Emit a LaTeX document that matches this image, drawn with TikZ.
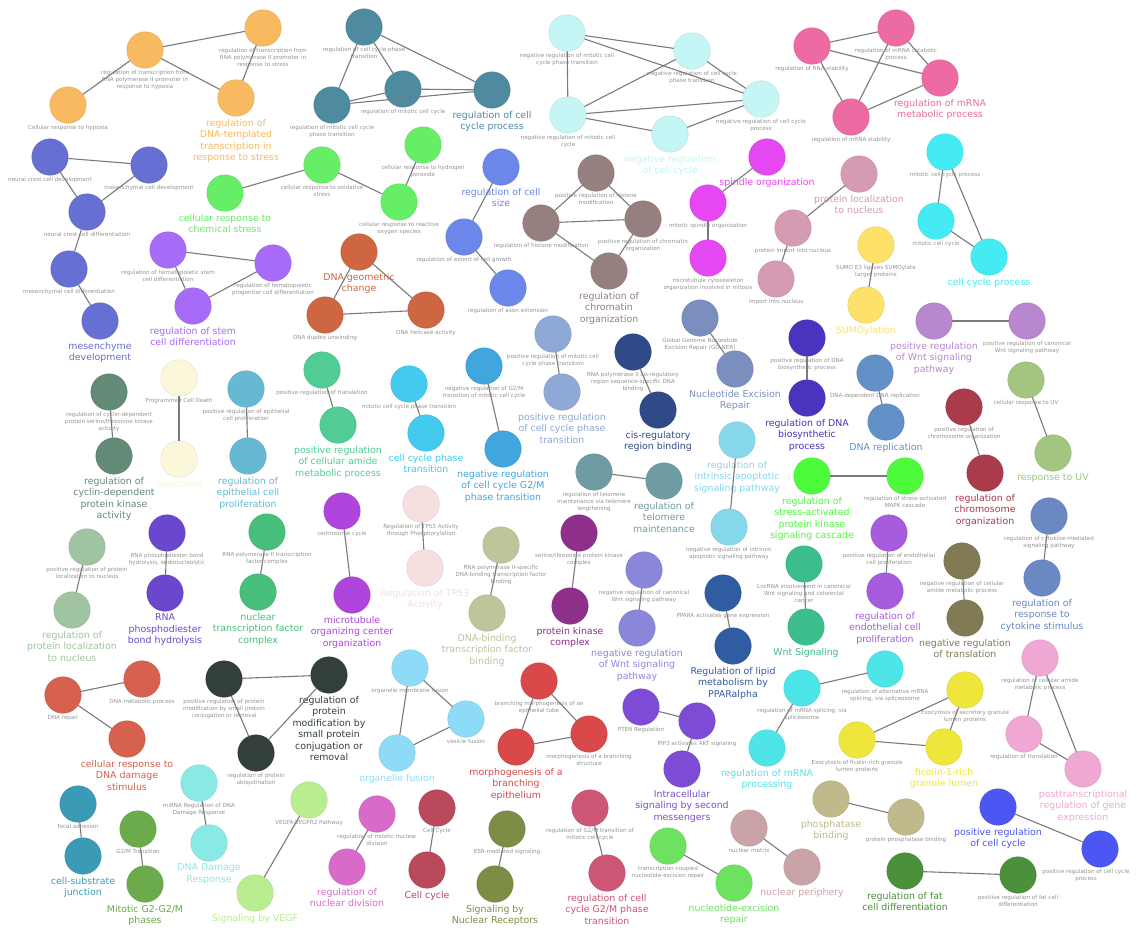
\documentclass[tikz,border=0pt]{standalone}
\usepackage{fontspec}
\setmainfont{DejaVu Sans}
\usetikzlibrary{positioning}
\definecolor{TxOrange}{HTML}{F9B961}
\definecolor{MesBlue}{HTML}{6670D2}
\definecolor{CcpTeal}{HTML}{4E8BA1}
\definecolor{NegCyan}{HTML}{C5F5F5}
\definecolor{MrnaPink}{HTML}{EC6BA2}
\definecolor{ChemGreen}{HTML}{66EE66}
\definecolor{StemPurple}{HTML}{A76BF7}
\definecolor{SizeBlue}{HTML}{6C87EA}
\definecolor{GeoRust}{HTML}{CE6642}
\definecolor{ChromBrown}{HTML}{96807F}
\definecolor{SpinMagenta}{HTML}{E547F2}
\definecolor{LocMauve}{HTML}{D59BB2}
\definecolor{CcCyan}{HTML}{45EBF3}
\definecolor{SumoYellow}{HTML}{FDE169}
\definecolor{WntLavender}{HTML}{B887CF}
\definecolor{PhaseSteel}{HTML}{8EA9D6}
\definecolor{CisNavy}{HTML}{2F4A86}
\definecolor{NerSlate}{HTML}{7A8FBE}
\definecolor{BioIndigo}{HTML}{4A33BF}
\definecolor{ReplBlue}{HTML}{6390C6}
\definecolor{ChromoCrimson}{HTML}{A93B4A}
\definecolor{UvGreen}{HTML}{A2C67F}
\definecolor{CdkGrey}{HTML}{638A77}
\definecolor{ApoCream}{HTML}{FAF7DA}
\definecolor{EpiBlue}{HTML}{67B9D3}
\definecolor{AmideGreen}{HTML}{52CC95}
\definecolor{TransSky}{HTML}{44C9EF}
\definecolor{GtmBlue}{HTML}{41A5DE}
\definecolor{TeloTeal}{HTML}{6F9CA3}
\definecolor{IntrSky}{HTML}{87D7EB}
\definecolor{SapkGreen}{HTML}{4DFB3A}
\definecolor{WntTeal}{HTML}{3BBE8C}
\definecolor{EndoPurple}{HTML}{A65CDC}
\definecolor{TranslOlive}{HTML}{817A55}
\definecolor{CytoBlue}{HTML}{6A88C2}
\definecolor{NucSage}{HTML}{A0C4A1}
\definecolor{RnaViolet}{HTML}{6B47CE}
\definecolor{NtfGreen}{HTML}{48BE7B}
\definecolor{MtocPurple}{HTML}{B045DE}
\definecolor{TpPink}{HTML}{F6DFDF}
\definecolor{TfbSage}{HTML}{BDC69B}
\definecolor{PkcPlum}{HTML}{8D2F8B}
\definecolor{NwntPeri}{HTML}{8A87DB}
\definecolor{PparBlue}{HTML}{305CA1}
\definecolor{SmallCharcoal}{HTML}{333F3A}
\definecolor{DamCoral}{HTML}{D6614F}
\definecolor{FusionBlue}{HTML}{8EDBF8}
\definecolor{MorphRed}{HTML}{D94949}
\definecolor{MessPurple}{HTML}{7D4CD4}
\definecolor{SpliceCyan}{HTML}{4EE5E9}
\definecolor{FicoYellow}{HTML}{EFE63B}
\definecolor{PostPink}{HTML}{EFA8D4}
\definecolor{JuncTeal}{HTML}{3B9BB6}
\definecolor{GtwoGreen}{HTML}{6CAB4B}
\definecolor{DdrCyan}{HTML}{88E9E5}
\definecolor{VegfGreen}{HTML}{B9ED8F}
\definecolor{DivOrchid}{HTML}{D86BC9}
\definecolor{CycRose}{HTML}{B9495B}
\definecolor{NrOlive}{HTML}{7E8D46}
\definecolor{GmRose}{HTML}{CD5575}
\definecolor{NerGreen}{HTML}{6FE161}
\definecolor{PeriRose}{HTML}{CAA3A7}
\definecolor{PhosKhaki}{HTML}{C0B98B}
\definecolor{PosBlue}{HTML}{4B56F3}
\definecolor{FatGreen}{HTML}{4B903B}

\begin{document}
\begin{tikzpicture}[
    x=1pt, y=-1pt,
    term/.style={circle, fill=#1, draw=#1!88!black, line width=0.3pt, minimum size=36.5pt, inner sep=0pt},
    sublbl/.style={font=\fontsize{5.6}{7}\selectfont, text=black!42, align=center, anchor=north, inner sep=0pt, yshift=-1.3pt},
    headlbl/.style={font=\fontsize{9.4}{11.5}\selectfont, text=#1, align=center, anchor=north, inner sep=0pt, yshift=-2.3pt},
    link/.style={draw=black!52, line width=1.1pt}
]
  \clip (0,0) rectangle (1137,927);
  \fill[white] (0,0) rectangle (1137,927);

  % -------------------------------------------------------------
  % ROW 1
  % -------------------------------------------------------------

  % transcription in response to stress
  \node[term=TxOrange] (tx_a) at (145,50) {};
  \node[sublbl] at (tx_a.south) {regulation of transcription from\\RNA polymerase II promoter in\\response to hypoxia};
  \node[term=TxOrange] (tx_b) at (263,28) {};
  \node[sublbl] at (tx_b.south) {regulation of transcription from\\RNA polymerase II promoter in\\response to stress};
  \node[term=TxOrange] (tx_c) at (68,105) {};
  \node[sublbl] at (tx_c.south) {Cellular response to hypoxia};
  \node[term=TxOrange] (tx_main) at (236,98) {};
  \node[headlbl=TxOrange] at (tx_main.south) {regulation of\\DNA-templated\\transcription in\\response to stress};
  \draw[link] (tx_a) -- (tx_c);
  \draw[link] (tx_a) -- (tx_b);
  \draw[link] (tx_a) -- (tx_main);
  \draw[link] (tx_b) -- (tx_main);

  % mesenchyme development
  \node[term=MesBlue] (mes_a) at (50,157) {};
  \node[sublbl] at (mes_a.south) {neural crest cell development};
  \node[term=MesBlue] (mes_b) at (149,165) {};
  \node[sublbl] at (mes_b.south) {mesenchymal cell development};
  \node[term=MesBlue] (mes_c) at (87,212) {};
  \node[sublbl] at (mes_c.south) {neural crest cell differentiation};
  \node[term=MesBlue] (mes_d) at (69,269) {};
  \node[sublbl] at (mes_d.south) {mesenchymal cell differentiation};
  \node[term=MesBlue] (mes_main) at (100,321) {};
  \node[headlbl=MesBlue] at (mes_main.south) {mesenchyme\\development};
  \draw[link] (mes_a) -- (mes_b);
  \draw[link] (mes_a) -- (mes_c);
  \draw[link] (mes_b) -- (mes_c);
  \draw[link] (mes_c) -- (mes_d);
  \draw[link] (mes_d) -- (mes_main);

  % regulation of cell cycle process
  \node[term=CcpTeal] (ccp_a) at (364,27) {};
  \node[sublbl] at (ccp_a.south) {regulation of cell cycle phase\\transition};
  \node[term=CcpTeal] (ccp_b) at (403,89) {};
  \node[sublbl] at (ccp_b.south) {regulation of mitotic cell cycle};
  \node[term=CcpTeal] (ccp_c) at (332,105) {};
  \node[sublbl] at (ccp_c.south) {regulation of mitotic cell cycle\\phase transition};
  \node[term=CcpTeal] (ccp_main) at (492,90) {};
  \node[headlbl=CcpTeal] at (ccp_main.south) {regulation of cell\\cycle process};
  \draw[link] (ccp_a) -- (ccp_c);
  \draw[link] (ccp_a) -- (ccp_b);
  \draw[link] (ccp_a) -- (ccp_main);
  \draw[link] (ccp_c) -- (ccp_b);
  \draw[link] (ccp_c) -- (ccp_main);
  \draw[link] (ccp_b) -- (ccp_main);

  % negative regulation of cell cycle
  \node[term=NegCyan] (ncc_a) at (567,33) {};
  \node[sublbl] at (ncc_a.south) {negative regulation of mitotic cell\\cycle phase transition};
  \node[term=NegCyan] (ncc_b) at (692,51) {};
  \node[sublbl] at (ncc_b.south) {negative regulation of cell cycle\\phase transition};
  \node[term=NegCyan] (ncc_c) at (568,115) {};
  \node[sublbl] at (ncc_c.south) {negative regulation of mitotic cell\\cycle};
  \node[term=NegCyan] (ncc_d) at (761,99) {};
  \node[sublbl] at (ncc_d.south) {negative regulation of cell cycle\\process};
  \node[term=NegCyan] (ncc_main) at (670,134) {};
  \node[headlbl=NegCyan] at (ncc_main.south) {negative regulation\\of cell cycle};
  \draw[link] (ncc_a) -- (ncc_b);
  \draw[link] (ncc_a) -- (ncc_d);
  \draw[link] (ncc_a) -- (ncc_c);
  \draw[link] (ncc_c) -- (ncc_b);
  \draw[link] (ncc_c) -- (ncc_d);
  \draw[link] (ncc_b) -- (ncc_d);
  \draw[link] (ncc_c) -- (ncc_main);
  \draw[link] (ncc_main) -- (ncc_d);

  % regulation of mRNA metabolic process
  \node[term=MrnaPink] (rna_a) at (812,46) {};
  \node[sublbl] at (rna_a.south) {regulation of RNA stability};
  \node[term=MrnaPink] (rna_b) at (896,28) {};
  \node[sublbl] at (rna_b.south) {regulation of mRNA catabolic\\process};
  \node[term=MrnaPink] (rna_c) at (851,117) {};
  \node[sublbl] at (rna_c.south) {regulation of mRNA stability};
  \node[term=MrnaPink] (rna_main) at (940,78) {};
  \node[headlbl=MrnaPink] at (rna_main.south) {regulation of mRNA\\metabolic process};
  \draw[link] (rna_a) -- (rna_b);
  \draw[link] (rna_a) -- (rna_main);
  \draw[link] (rna_a) -- (rna_c);
  \draw[link] (rna_b) -- (rna_c);
  \draw[link] (rna_b) -- (rna_main);
  \draw[link] (rna_c) -- (rna_main);

  % -------------------------------------------------------------
  % ROW 2
  % -------------------------------------------------------------

  % cellular response to chemical stress
  \node[term=ChemGreen] (chem_main) at (225,193) {};
  \node[headlbl=ChemGreen] at (chem_main.south) {cellular response to\\chemical stress};
  \node[term=ChemGreen] (chem_a) at (322,165) {};
  \node[sublbl] at (chem_a.south) {cellular response to oxidative\\stress};
  \node[term=ChemGreen] (chem_b) at (423,145) {};
  \node[sublbl] at (chem_b.south) {cellular response to hydrogen\\peroxide};
  \node[term=ChemGreen] (chem_c) at (399,202) {};
  \node[sublbl] at (chem_c.south) {cellular response to reactive\\oxygen species};
  \draw[link] (chem_main) -- (chem_a);
  \draw[link] (chem_a) -- (chem_c);
  \draw[link] (chem_b) -- (chem_c);

  % regulation of stem cell differentiation
  \node[term=StemPurple] (stem_a) at (168,250) {};
  \node[sublbl] at (stem_a.south) {regulation of hematopoietic stem\\cell differentiation};
  \node[term=StemPurple] (stem_b) at (273,263) {};
  \node[sublbl] at (stem_b.south) {regulation of hematopoietic\\progenitor cell differentiation};
  \node[term=StemPurple] (stem_main) at (193,306) {};
  \node[headlbl=StemPurple] at (stem_main.south) {regulation of stem\\cell differentiation};
  \draw[link] (stem_a) -- (stem_b);
  \draw[link] (stem_a) -- (stem_main);
  \draw[link] (stem_b) -- (stem_main);

  % regulation of cell size
  \node[term=SizeBlue] (size_main) at (501,167) {};
  \node[headlbl=SizeBlue] at (size_main.south) {regulation of cell\\size};
  \node[term=SizeBlue] (size_a) at (464,237) {};
  \node[sublbl] at (size_a.south) {regulation of extent of cell growth};
  \node[term=SizeBlue] (size_b) at (508,288) {};
  \node[sublbl] at (size_b.south) {regulation of axon extension};
  \draw[link] (size_main) -- (size_a);
  \draw[link] (size_a) -- (size_b);

  % DNA geometric change
  \node[term=GeoRust] (geo_main) at (359,252) {};
  \node[headlbl=GeoRust] at (geo_main.south) {DNA geometric\\change};
  \node[term=GeoRust] (geo_a) at (325,315) {};
  \node[sublbl] at (geo_a.south) {DNA duplex unwinding};
  \node[term=GeoRust] (geo_b) at (426,310) {};
  \node[sublbl] at (geo_b.south) {DNA helicase activity};
  \draw[link] (geo_main) -- (geo_a);
  \draw[link] (geo_main) -- (geo_b);
  \draw[link] (geo_a) -- (geo_b);

  % regulation of chromatin organization
  \node[term=ChromBrown] (chr_a) at (596,173) {};
  \node[sublbl] at (chr_a.south) {positive regulation of histone\\modification};
  \node[term=ChromBrown] (chr_b) at (541,223) {};
  \node[sublbl] at (chr_b.south) {regulation of histone modification};
  \node[term=ChromBrown] (chr_c) at (643,219) {};
  \node[sublbl] at (chr_c.south) {positive regulation of chromatin\\organization};
  \node[term=ChromBrown] (chr_main) at (609,271) {};
  \node[headlbl=ChromBrown] at (chr_main.south) {regulation of\\chromatin\\organization};
  \draw[link] (chr_a) -- (chr_b);
  \draw[link] (chr_a) -- (chr_c);
  \draw[link] (chr_b) -- (chr_c);
  \draw[link] (chr_b) -- (chr_main);
  \draw[link] (chr_c) -- (chr_main);

  % spindle organization
  \node[term=SpinMagenta] (spn_main) at (767,157) {};
  \node[headlbl=SpinMagenta] at (spn_main.south) {spindle organization};
  \node[term=SpinMagenta] (spn_a) at (708,203) {};
  \node[sublbl] at (spn_a.south) {mitotic spindle organization};
  \node[term=SpinMagenta] (spn_b) at (708,258) {};
  \node[sublbl] at (spn_b.south) {microtubule cytoskeleton\\organization involved in mitosis};
  \draw[link] (spn_main) -- (spn_a);
  \draw[link] (spn_a) -- (spn_b);

  % protein localization to nucleus
  \node[term=LocMauve] (loc_main) at (859,174) {};
  \node[headlbl=LocMauve] at (loc_main.south) {protein localization\\to nucleus};
  \node[term=LocMauve] (loc_a) at (793,228) {};
  \node[sublbl] at (loc_a.south) {protein import into nucleus};
  \node[term=LocMauve] (loc_b) at (776,279) {};
  \node[sublbl] at (loc_b.south) {import into nucleus};
  \draw[link] (loc_main) -- (loc_a);
  \draw[link] (loc_a) -- (loc_b);

  % cell cycle process
  \node[term=CcCyan] (cyc_a) at (945,152) {};
  \node[sublbl] at (cyc_a.south) {mitotic cell cycle process};
  \node[term=CcCyan] (cyc_b) at (936,221) {};
  \node[sublbl] at (cyc_b.south) {mitotic cell cycle};
  \node[term=CcCyan] (cyc_main) at (989,257) {};
  \node[headlbl=CcCyan] at (cyc_main.south) {cell cycle process};
  \draw[link] (cyc_a) -- (cyc_b);
  \draw[link] (cyc_a) -- (cyc_main);
  \draw[link] (cyc_b) -- (cyc_main);

  % SUMOylation
  \node[term=SumoYellow] (sumo_a) at (876,245) {};
  \node[sublbl] at (sumo_a.south) {SUMO E3 ligases SUMOylate\\target proteins};
  \node[term=SumoYellow] (sumo_main) at (866,305) {};
  \node[headlbl=SumoYellow] at (sumo_main.south) {SUMOylation};
  \draw[link] (sumo_a) -- (sumo_main);

  % -------------------------------------------------------------
  % ROW 3
  % -------------------------------------------------------------

  % positive regulation of Wnt signaling pathway
  \node[term=WntLavender] (wnt_main) at (934,321) {};
  \node[headlbl=WntLavender] at (wnt_main.south) {positive regulation\\of Wnt signaling\\pathway};
  \node[term=WntLavender] (wnt_a) at (1027,321) {};
  \node[sublbl] at (wnt_a.south) {positive regulation of canonical\\Wnt signaling pathway};
  \draw[link] (wnt_main) -- (wnt_a);

  % positive regulation of cell cycle phase transition
  \node[term=PhaseSteel] (pph_a) at (553,334) {};
  \node[sublbl] at (pph_a.south) {positive regulation of mitotic cell\\cycle phase transition};
  \node[term=PhaseSteel] (pph_main) at (562,392) {};
  \node[headlbl=PhaseSteel] at (pph_main.south) {positive regulation\\of cell cycle phase\\transition};
  \draw[link] (pph_a) -- (pph_main);

  % cis-regulatory region binding
  \node[term=CisNavy] (cis_a) at (633,352) {};
  \node[sublbl] at (cis_a.south) {RNA polymerase II cis-regulatory\\region sequence-specific DNA\\binding};
  \node[term=CisNavy] (cis_main) at (658,410) {};
  \node[headlbl=CisNavy] at (cis_main.south) {cis-regulatory\\region binding};
  \draw[link] (cis_a) -- (cis_main);

  % Nucleotide Excision Repair
  \node[term=NerSlate] (ner_a) at (700,318) {};
  \node[sublbl] at (ner_a.south) {Global Genome Nucleotide\\Excision Repair (GG-NER)};
  \node[term=NerSlate] (ner_main) at (735,369) {};
  \node[headlbl=NerSlate] at (ner_main.south) {Nucleotide Excision\\Repair};
  \draw[link] (ner_a) -- (ner_main);

  % regulation of DNA biosynthetic process
  \node[term=BioIndigo] (bio_a) at (807,338) {};
  \node[sublbl] at (bio_a.south) {positive regulation of DNA\\biosynthetic process};
  \node[term=BioIndigo] (bio_main) at (807,398) {};
  \node[headlbl=BioIndigo] at (bio_main.south) {regulation of DNA\\biosynthetic\\process};
  \draw[link] (bio_a) -- (bio_main);

  % DNA replication
  \node[term=ReplBlue] (rep_a) at (875,373) {};
  \node[sublbl] at (rep_a.south) {DNA-dependent DNA replication};
  \node[term=ReplBlue] (rep_main) at (886,422) {};
  \node[headlbl=ReplBlue] at (rep_main.south) {DNA replication};
  \draw[link] (rep_a) -- (rep_main);

  % regulation of chromosome organization
  \node[term=ChromoCrimson] (cho_a) at (964,407) {};
  \node[sublbl] at (cho_a.south) {positive regulation of\\chromosome organization};
  \node[term=ChromoCrimson] (cho_main) at (985,473) {};
  \node[headlbl=ChromoCrimson] at (cho_main.south) {regulation of\\chromosome\\organization};
  \draw[link] (cho_a) -- (cho_main);

  % response to UV
  \node[term=UvGreen] (uv_a) at (1026,380) {};
  \node[sublbl] at (uv_a.south) {cellular response to UV};
  \node[term=UvGreen] (uv_main) at (1053,453) {};
  \node[headlbl=UvGreen] at (uv_main.south) {response to UV};
  \draw[link] (uv_a) -- (uv_main);

  % regulation of cyclin-dependent protein kinase activity
  \node[term=CdkGrey] (cdk_a) at (109,392) {};
  \node[sublbl] at (cdk_a.south) {regulation of cyclin-dependent\\protein serine/threonine kinase\\activity};
  \node[term=CdkGrey] (cdk_main) at (114,456) {};
  \node[headlbl=CdkGrey] at (cdk_main.south) {regulation of\\cyclin-dependent\\protein kinase\\activity};
  \draw[link] (cdk_a) -- (cdk_main);

  % Apoptosis
  \node[term=ApoCream] (apo_a) at (179,378) {};
  \node[sublbl] at (apo_a.south) {Programmed Cell Death};
  \node[term=ApoCream] (apo_main) at (179,459) {};
  \node[headlbl=ApoCream] at (apo_main.south) {Apoptosis};
  \draw[link] (apo_a) -- (apo_main);

  % regulation of epithelial cell proliferation
  \node[term=EpiBlue] (epi_a) at (246,389) {};
  \node[sublbl] at (epi_a.south) {positive regulation of epithelial\\cell proliferation};
  \node[term=EpiBlue] (epi_main) at (248,456) {};
  \node[headlbl=EpiBlue] at (epi_main.south) {regulation of\\epithelial cell\\proliferation};
  \draw[link] (epi_a) -- (epi_main);

  % positive regulation of cellular amide metabolic process
  \node[term=AmideGreen] (amd_a) at (322,370) {};
  \node[sublbl] at (amd_a.south) {positive regulation of translation};
  \node[term=AmideGreen] (amd_main) at (338,425) {};
  \node[headlbl=AmideGreen] at (amd_main.south) {positive regulation\\of cellular amide\\metabolic process};
  \draw[link] (amd_a) -- (amd_main);

  % cell cycle phase transition
  \node[term=TransSky] (cpt_a) at (409,384) {};
  \node[sublbl] at (cpt_a.south) {mitotic cell cycle phase transition};
  \node[term=TransSky] (cpt_main) at (426,433) {};
  \node[headlbl=TransSky] at (cpt_main.south) {cell cycle phase\\transition};
  \draw[link] (cpt_a) -- (cpt_main);

  % negative regulation of cell cycle G2/M phase transition
  \node[term=GtmBlue] (gtm_a) at (484,366) {};
  \node[sublbl] at (gtm_a.south) {negative regulation of G2/M\\transition of mitotic cell cycle};
  \node[term=GtmBlue] (gtm_main) at (503,449) {};
  \node[headlbl=GtmBlue] at (gtm_main.south) {negative regulation\\of cell cycle G2/M\\phase transition};
  \draw[link] (gtm_a) -- (gtm_main);

  % regulation of telomere maintenance
  \node[term=TeloTeal] (tel_a) at (594,472) {};
  \node[sublbl] at (tel_a.south) {regulation of telomere\\maintenance via telomere\\lengthening};
  \node[term=TeloTeal] (tel_main) at (664,481) {};
  \node[headlbl=TeloTeal] at (tel_main.south) {regulation of\\telomere\\maintenance};
  \draw[link] (tel_a) -- (tel_main);

  % regulation of intrinsic apoptotic signaling pathway
  \node[term=IntrSky] (apt_main) at (737,440) {};
  \node[headlbl=IntrSky] at (apt_main.south) {regulation of\\intrinsic apoptotic\\signaling pathway};
  \node[term=IntrSky] (apt_a) at (729,527) {};
  \node[sublbl] at (apt_a.south) {negative regulation of intrinsic\\apoptotic signaling pathway};
  \draw[link] (apt_main) -- (apt_a);

  % regulation of stress-activated protein kinase signaling cascade
  \node[term=SapkGreen] (sapk_main) at (812,476) {};
  \node[headlbl=SapkGreen] at (sapk_main.south) {regulation of\\stress-activated\\protein kinase\\signaling cascade};
  \node[term=SapkGreen] (sapk_a) at (905,476) {};
  \node[sublbl] at (sapk_a.south) {regulation of stress-activated\\MAPK cascade};
  \draw[link] (sapk_main) -- (sapk_a);

  % regulation of response to cytokine stimulus
  \node[term=CytoBlue] (cyt_a) at (1049,516) {};
  \node[sublbl] at (cyt_a.south) {regulation of cytokine-mediated\\signaling pathway};
  \node[term=CytoBlue] (cyt_main) at (1042,578) {};
  \node[headlbl=CytoBlue] at (cyt_main.south) {regulation of\\response to\\cytokine stimulus};
  \draw[link] (cyt_a) -- (cyt_main);

  % -------------------------------------------------------------
  % ROW 4
  % -------------------------------------------------------------

  % regulation of protein localization to nucleus
  \node[term=NucSage] (pln_a) at (87,547) {};
  \node[sublbl] at (pln_a.south) {positive regulation of protein\\localization to nucleus};
  \node[term=NucSage] (pln_main) at (72,610) {};
  \node[headlbl=NucSage] at (pln_main.south) {regulation of\\protein localization\\to nucleus};
  \draw[link] (pln_a) -- (pln_main);

  % RNA phosphodiester bond hydrolysis
  \node[term=RnaViolet] (rpb_a) at (167,533) {};
  \node[sublbl] at (rpb_a.south) {RNA phosphodiester bond\\hydrolysis, endonucleolytic};
  \node[term=RnaViolet] (rpb_main) at (165,593) {};
  \node[headlbl=RnaViolet] at (rpb_main.south) {RNA\\phosphodiester\\bond hydrolysis};
  \draw[link] (rpb_a) -- (rpb_main);

  % nuclear transcription factor complex
  \node[term=NtfGreen] (ntf_a) at (267,532) {};
  \node[sublbl] at (ntf_a.south) {RNA polymerase II transcription\\factor complex};
  \node[term=NtfGreen] (ntf_main) at (258,592) {};
  \node[headlbl=NtfGreen] at (ntf_main.south) {nuclear\\transcription factor\\complex};
  \draw[link] (ntf_a) -- (ntf_main);

  % microtubule organizing center organization
  \node[term=MtocPurple] (mtoc_a) at (342,511) {};
  \node[sublbl] at (mtoc_a.south) {centrosome cycle};
  \node[term=MtocPurple] (mtoc_main) at (352,595) {};
  \node[headlbl=MtocPurple] at (mtoc_main.south) {microtubule\\organizing center\\organization};
  \draw[link] (mtoc_a) -- (mtoc_main);

  % Regulation of TP53 Activity
  \node[term=TpPink] (tp_a) at (421,504) {};
  \node[sublbl] at (tp_a.south) {Regulation of TP53 Activity\\through Phosphorylation};
  \node[term=TpPink] (tp_main) at (425,568) {};
  \node[headlbl=TpPink] at (tp_main.south) {Regulation of TP53\\Activity};
  \draw[link] (tp_a) -- (tp_main);

  % DNA-binding transcription factor binding
  \node[term=TfbSage] (tfb_a) at (501,545) {};
  \node[sublbl] at (tfb_a.south) {RNA polymerase II-specific\\DNA-binding transcription factor\\binding};
  \node[term=TfbSage] (tfb_main) at (487,613) {};
  \node[headlbl=TfbSage] at (tfb_main.south) {DNA-binding\\transcription factor\\binding};
  \draw[link] (tfb_a) -- (tfb_main);

  % protein kinase complex
  \node[term=PkcPlum] (pkc_a) at (579,533) {};
  \node[sublbl] at (pkc_a.south) {serine/threonine protein kinase\\complex};
  \node[term=PkcPlum] (pkc_main) at (570,606) {};
  \node[headlbl=PkcPlum] at (pkc_main.south) {protein kinase\\complex};
  \draw[link] (pkc_a) -- (pkc_main);

  % negative regulation of Wnt signaling pathway
  \node[term=NwntPeri] (nwnt_a) at (644,570) {};
  \node[sublbl] at (nwnt_a.south) {negative regulation of canonical\\Wnt signaling pathway};
  \node[term=NwntPeri] (nwnt_main) at (637,628) {};
  \node[headlbl=NwntPeri] at (nwnt_main.south) {negative regulation\\of Wnt signaling\\pathway};
  \draw[link] (nwnt_a) -- (nwnt_main);

  % Regulation of lipid metabolism by PPARalpha
  \node[term=PparBlue] (ppar_a) at (723,593) {};
  \node[sublbl] at (ppar_a.south) {PPARA activates gene expression};
  \node[term=PparBlue] (ppar_main) at (733,646) {};
  \node[headlbl=PparBlue] at (ppar_main.south) {Regulation of lipid\\metabolism by\\PPARalpha};
  \draw[link] (ppar_a) -- (ppar_main);

  % Wnt Signaling
  \node[term=WntTeal] (wsg_a) at (804,564) {};
  \node[sublbl] at (wsg_a.south) {LncRNA involvement in canonical\\Wnt signaling and colorectal\\cancer};
  \node[term=WntTeal] (wsg_main) at (806,627) {};
  \node[headlbl=WntTeal] at (wsg_main.south) {Wnt Signaling};
  \draw[link] (wsg_a) -- (wsg_main);

  % regulation of endothelial cell proliferation
  \node[term=EndoPurple] (endo_a) at (889,533) {};
  \node[sublbl] at (endo_a.south) {positive regulation of endothelial\\cell proliferation};
  \node[term=EndoPurple] (endo_main) at (885,591) {};
  \node[headlbl=EndoPurple] at (endo_main.south) {regulation of\\endothelial cell\\proliferation};
  \draw[link] (endo_a) -- (endo_main);

  % negative regulation of translation
  \node[term=TranslOlive] (ntl_a) at (962,561) {};
  \node[sublbl] at (ntl_a.south) {negative regulation of cellular\\amide metabolic process};
  \node[term=TranslOlive] (ntl_main) at (965,618) {};
  \node[headlbl=TranslOlive] at (ntl_main.south) {negative regulation\\of translation};
  \draw[link] (ntl_a) -- (ntl_main);

  % -------------------------------------------------------------
  % ROW 5
  % -------------------------------------------------------------

  % regulation of protein modification by small protein conjugation or removal
  \node[term=SmallCharcoal] (spc_a) at (224,679) {};
  \node[sublbl] at (spc_a.south) {positive regulation of protein\\modification by small protein\\conjugation or removal};
  \node[term=SmallCharcoal] (spc_b) at (256,753) {};
  \node[sublbl] at (spc_b.south) {regulation of protein\\ubiquitination};
  \node[term=SmallCharcoal] (spc_main) at (329,675) {};
  \node[headlbl=SmallCharcoal] at (spc_main.south) {regulation of\\protein\\modification by\\small protein\\conjugation or\\removal};
  \draw[link] (spc_a) -- (spc_main);
  \draw[link] (spc_a) -- (spc_b);
  \draw[link] (spc_b) -- (spc_main);

  % cellular response to DNA damage stimulus
  \node[term=DamCoral] (ddr_a) at (63,695) {};
  \node[sublbl] at (ddr_a.south) {DNA repair};
  \node[term=DamCoral] (ddr_b) at (142,679) {};
  \node[sublbl] at (ddr_b.south) {DNA metabolic process};
  \node[term=DamCoral] (ddr_main) at (127,739) {};
  \node[headlbl=DamCoral] at (ddr_main.south) {cellular response to\\DNA damage\\stimulus};
  \draw[link] (ddr_a) -- (ddr_b);
  \draw[link] (ddr_a) -- (ddr_main);

  % organelle fusion
  \node[term=FusionBlue] (fus_a) at (410,668) {};
  \node[sublbl] at (fus_a.south) {organelle membrane fusion};
  \node[term=FusionBlue] (fus_b) at (466,719) {};
  \node[sublbl] at (fus_b.south) {vesicle fusion};
  \node[term=FusionBlue] (fus_main) at (397,753) {};
  \node[headlbl=FusionBlue] at (fus_main.south) {organelle fusion};
  \draw[link] (fus_a) -- (fus_b);
  \draw[link] (fus_a) -- (fus_main);
  \draw[link] (fus_b) -- (fus_main);

  % morphogenesis of a branching epithelium
  \node[term=MorphRed] (brn_a) at (539,681) {};
  \node[sublbl] at (brn_a.south) {branching morphogenesis of an\\epithelial tube};
  \node[term=MorphRed] (brn_b) at (589,734) {};
  \node[sublbl] at (brn_b.south) {morphogenesis of a branching\\structure};
  \node[term=MorphRed] (brn_main) at (516,747) {};
  \node[headlbl=MorphRed] at (brn_main.south) {morphogenesis of a\\branching\\epithelium};
  \draw[link] (brn_a) -- (brn_main);
  \draw[link] (brn_a) -- (brn_b);
  \draw[link] (brn_main) -- (brn_b);

  % Intracellular signaling by second messengers
  \node[term=MessPurple] (sec_a) at (641,707) {};
  \node[sublbl] at (sec_a.south) {PTEN Regulation};
  \node[term=MessPurple] (sec_b) at (697,721) {};
  \node[sublbl] at (sec_b.south) {PIP3 activates AKT signaling};
  \node[term=MessPurple] (sec_main) at (682,769) {};
  \node[headlbl=MessPurple] at (sec_main.south) {Intracellular\\signaling by second\\messengers};
  \draw[link] (sec_a) -- (sec_b);
  \draw[link] (sec_b) -- (sec_main);

  % regulation of mRNA processing
  \node[term=SpliceCyan] (spl_a) at (885,669) {};
  \node[sublbl] at (spl_a.south) {regulation of alternative mRNA\\splicing, via spliceosome};
  \node[term=SpliceCyan] (spl_b) at (802,688) {};
  \node[sublbl] at (spl_b.south) {regulation of mRNA splicing, via\\spliceosome};
  \node[term=SpliceCyan] (spl_main) at (767,748) {};
  \node[headlbl=SpliceCyan] at (spl_main.south) {regulation of mRNA\\processing};
  \draw[link] (spl_a) -- (spl_b);
  \draw[link] (spl_b) -- (spl_main);

  % ficolin-1-rich granule lumen
  \node[term=FicoYellow] (fic_a) at (965,690) {};
  \node[sublbl] at (fic_a.south) {Exocytosis of secretory granule\\lumen proteins};
  \node[term=FicoYellow] (fic_b) at (857,740) {};
  \node[sublbl] at (fic_b.south) {Exocytosis of ficolin-rich granule\\lumen proteins};
  \node[term=FicoYellow] (fic_main) at (944,747) {};
  \node[headlbl=FicoYellow] at (fic_main.south) {ficolin-1-rich\\granule lumen};
  \draw[link] (fic_a) -- (fic_b);
  \draw[link] (fic_a) -- (fic_main);
  \draw[link] (fic_b) -- (fic_main);

  % posttranscriptional regulation of gene expression
  \node[term=PostPink] (ptr_a) at (1040,658) {};
  \node[sublbl] at (ptr_a.south) {regulation of cellular amide\\metabolic process};
  \node[term=PostPink] (ptr_b) at (1024,734) {};
  \node[sublbl] at (ptr_b.south) {regulation of translation};
  \node[term=PostPink] (ptr_main) at (1083,769) {};
  \node[headlbl=PostPink] at (ptr_main.south) {posttranscriptional\\regulation of gene\\expression};
  \draw[link] (ptr_a) -- (ptr_b);
  \draw[link] (ptr_a) -- (ptr_main);
  \draw[link] (ptr_b) -- (ptr_main);

  % -------------------------------------------------------------
  % ROW 6
  % -------------------------------------------------------------

  % cell-substrate junction
  \node[term=JuncTeal] (jnc_a) at (78,804) {};
  \node[sublbl] at (jnc_a.south) {focal adhesion};
  \node[term=JuncTeal] (jnc_main) at (83,856) {};
  \node[headlbl=JuncTeal] at (jnc_main.south) {cell-substrate\\junction};
  \draw[link] (jnc_a) -- (jnc_main);

  % Mitotic G2-G2/M phases
  \node[term=GtwoGreen] (g2m_a) at (138,829) {};
  \node[sublbl] at (g2m_a.south) {G2/M Transition};
  \node[term=GtwoGreen] (g2m_main) at (145,884) {};
  \node[headlbl=GtwoGreen] at (g2m_main.south) {Mitotic G2-G2/M\\phases};
  \draw[link] (g2m_a) -- (g2m_main);

  % DNA Damage Response
  \node[term=DdrCyan] (dmr_a) at (199,783) {};
  \node[sublbl] at (dmr_a.south) {miRNA Regulation of DNA\\Damage Response};
  \node[term=DdrCyan] (dmr_main) at (209,843) {};
  \node[headlbl=DdrCyan] at (dmr_main.south) {DNA Damage\\Response};
  \draw[link] (dmr_a) -- (dmr_main);

  % Signaling by VEGF
  \node[term=VegfGreen] (vegf_a) at (309,800) {};
  \node[sublbl] at (vegf_a.south) {VEGFA-VEGFR2 Pathway};
  \node[term=VegfGreen] (vegf_main) at (255,893) {};
  \node[headlbl=VegfGreen] at (vegf_main.south) {Signaling by VEGF};
  \draw[link] (vegf_a) -- (vegf_main);

  % regulation of nuclear division
  \node[term=DivOrchid] (div_a) at (377,814) {};
  \node[sublbl] at (div_a.south) {regulation of mitotic nuclear\\division};
  \node[term=DivOrchid] (div_main) at (347,867) {};
  \node[headlbl=DivOrchid] at (div_main.south) {regulation of\\nuclear division};
  \draw[link] (div_a) -- (div_main);

  % Cell cycle
  \node[term=CycRose] (cc_a) at (437,808) {};
  \node[sublbl] at (cc_a.south) {Cell Cycle};
  \node[term=CycRose] (cc_main) at (427,870) {};
  \node[headlbl=CycRose] at (cc_main.south) {Cell cycle};
  \draw[link] (cc_a) -- (cc_main);

  % Signaling by Nuclear Receptors
  \node[term=NrOlive] (nr_a) at (507,829) {};
  \node[sublbl] at (nr_a.south) {ESR-mediated signaling};
  \node[term=NrOlive] (nr_main) at (495,884) {};
  \node[headlbl=NrOlive] at (nr_main.south) {Signaling by\\Nuclear Receptors};
  \draw[link] (nr_a) -- (nr_main);

  % regulation of cell cycle G2/M phase transition
  \node[term=GmRose] (gmt_a) at (590,808) {};
  \node[sublbl] at (gmt_a.south) {regulation of G2/M transition of\\mitotic cell cycle};
  \node[term=GmRose] (gmt_main) at (607,873) {};
  \node[headlbl=GmRose] at (gmt_main.south) {regulation of cell\\cycle G2/M phase\\transition};
  \draw[link] (gmt_a) -- (gmt_main);

  % nucleotide-excision repair
  \node[term=NerGreen] (nex_a) at (668,846) {};
  \node[sublbl] at (nex_a.south) {transcription-coupled\\nucleotide-excision repair};
  \node[term=NerGreen] (nex_main) at (734,883) {};
  \node[headlbl=NerGreen] at (nex_main.south) {nucleotide-excision\\repair};
  \draw[link] (nex_a) -- (nex_main);

  % nuclear periphery
  \node[term=PeriRose] (per_a) at (749,828) {};
  \node[sublbl] at (per_a.south) {nuclear matrix};
  \node[term=PeriRose] (per_main) at (802,867) {};
  \node[headlbl=PeriRose] at (per_main.south) {nuclear periphery};
  \draw[link] (per_a) -- (per_main);

  % phosphatase binding
  \node[term=PhosKhaki] (phos_main) at (831,799) {};
  \node[headlbl=PhosKhaki] at (phos_main.south) {phosphatase\\binding};
  \node[term=PhosKhaki] (phos_a) at (906,817) {};
  \node[sublbl] at (phos_a.south) {protein phosphatase binding};
  \draw[link] (phos_main) -- (phos_a);

  % positive regulation of cell cycle
  \node[term=PosBlue] (pcc_main) at (998,807) {};
  \node[headlbl=PosBlue] at (pcc_main.south) {positive regulation\\of cell cycle};
  \node[term=PosBlue] (pcc_a) at (1100,849) {};
  \node[sublbl, xshift=-14pt] at (pcc_a.south) {positive regulation of cell cycle\\process};
  \draw[link] (pcc_main) -- (pcc_a);

  % regulation of fat cell differentiation
  \node[term=FatGreen] (fat_main) at (905,871) {};
  \node[headlbl=FatGreen] at (fat_main.south) {regulation of fat\\cell differentiation};
  \node[term=FatGreen] (fat_a) at (1018,875) {};
  \node[sublbl] at (fat_a.south) {positive regulation of fat cell\\differentiation};
  \draw[link] (fat_main) -- (fat_a);

\end{tikzpicture}
\end{document}
